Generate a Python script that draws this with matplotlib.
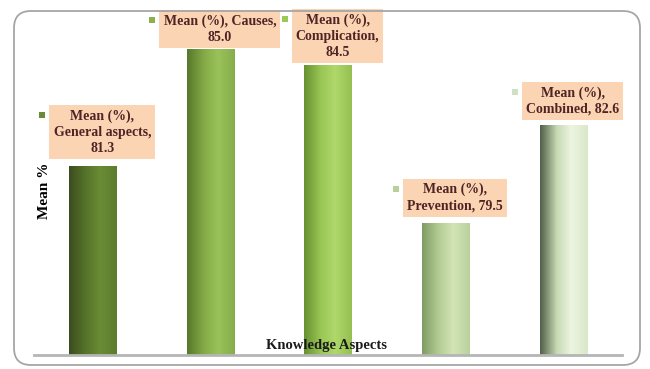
import numpy as np
import matplotlib
matplotlib.use("Agg")
import matplotlib.pyplot as plt
from matplotlib.colors import LinearSegmentedColormap
from matplotlib.patches import FancyBboxPatch, Rectangle

# data
categories = ["General aspects", "Causes", "Complication", "Prevention", "Combined"]
values = [81.3, 85.0, 84.5, 79.5, 82.6]
label_texts = [
    "Mean (%),\nGeneral aspects,\n81.3",
    "Mean (%), Causes,\n85.0",
    "Mean (%),\nComplication,\n84.5",
    "Mean (%),\nPrevention, 79.5",
    "Mean (%),\nCombined, 82.6",
]

# styling per bar (gradient stops left -> right)
bar_grads = [
    ["#3b4d1e", "#56732a", "#6a8c35", "#5d7c2e"],
    ["#57772a", "#83aa46", "#9ac25a", "#86ad4a"],
    ["#679131", "#99c655", "#b0d86b", "#95bf51"],
    ["#7f9a62", "#b3cc94", "#d3e4b6", "#b9d19d"],
    ["#505e48", "#c5d9b2", "#edf5e1", "#d9e8c8"],
]
marker_colors = ["#6b8a35", "#8bb04c", "#9cc85a", "#b8d09a", "#d0e0c0"]
label_dy = [34, 20, 29, 25, 24]   # box centre above bar top, pixels
label_dx = 9.5

fig = plt.figure(figsize=(6.5, 3.69), dpi=100)
fig.patch.set_facecolor("white")

frame = FancyBboxPatch((0.14, 0.04), 6.26, 3.54,
                       boxstyle="round,pad=0,rounding_size=0.17",
                       transform=fig.dpi_scale_trans, fc="none",
                       ec="#a6a6a6", lw=1.3)
fig.add_artist(frame)

ax = fig.add_axes([34 / 650, 14 / 369, 588 / 650, 335 / 369])
ax.set_facecolor("none")
ymin = 75.3
ymax = ymin + 335 / 31.5
x = np.arange(len(categories))
width = 0.4

bars = ax.bar(x, values, width=width, color="none", edgecolor="none")
grad = np.linspace(0, 1, 256).reshape(1, -1)
for b, stops in zip(bars, bar_grads):
    cmap = LinearSegmentedColormap.from_list("g", list(zip([0, 0.35, 0.65, 1], stops)))
    x0 = b.get_x()
    im = ax.imshow(grad, cmap=cmap, aspect="auto",
                   extent=(x0, x0 + b.get_width(), ymin, b.get_height()),
                   zorder=2)
    im.set_clip_path(b)

ax.set_xlim(-0.5, len(categories) - 0.5)
ax.set_ylim(ymin, ymax)

for s in ["top", "right", "left"]:
    ax.spines[s].set_visible(False)
ax.spines["bottom"].set_color("#b5b5b5")
ax.spines["bottom"].set_linewidth(2)
ax.set_xticks([])
ax.set_yticks([])

font = "Liberation Serif"
anns = []
for i, (v, t) in enumerate(zip(values, label_texts)):
    a = ax.annotate(t, xy=(i, v), xytext=(label_dx, label_dy[i]),
                    textcoords="offset pixels", ha="center", va="center",
                    fontsize=10, fontweight="bold", family=font,
                    color="#4e2424", linespacing=1.3, zorder=5,
                    bbox=dict(boxstyle="square,pad=0.3", fc="#fbd4b4", ec="none"))
    anns.append(a)

ax.text(11 / 588, 0.49, "Mean %", transform=ax.transAxes, rotation=90,
        ha="center", va="center", fontsize=11, fontweight="bold", family=font,
        color="black")
ax.text(293 / 588, 10 / 335, "Knowledge Aspects", transform=ax.transAxes,
        ha="center", va="center", fontsize=10.5, fontweight="bold", family=font,
        color="#1a1a1a", zorder=6)

# legend-key squares beside each label
fig.canvas.draw()
r = fig.canvas.get_renderer()
for a, c in zip(anns, marker_colors):
    bb = a.get_bbox_patch().get_window_extent(r)
    cx, cy = bb.x0 - 7, bb.y1 - 10
    sq = Rectangle((cx - 3, cy - 3), 6, 6, transform=None, fc=c, ec="none")
    fig.add_artist(sq)

fig.savefig("out.png", dpi=100)
